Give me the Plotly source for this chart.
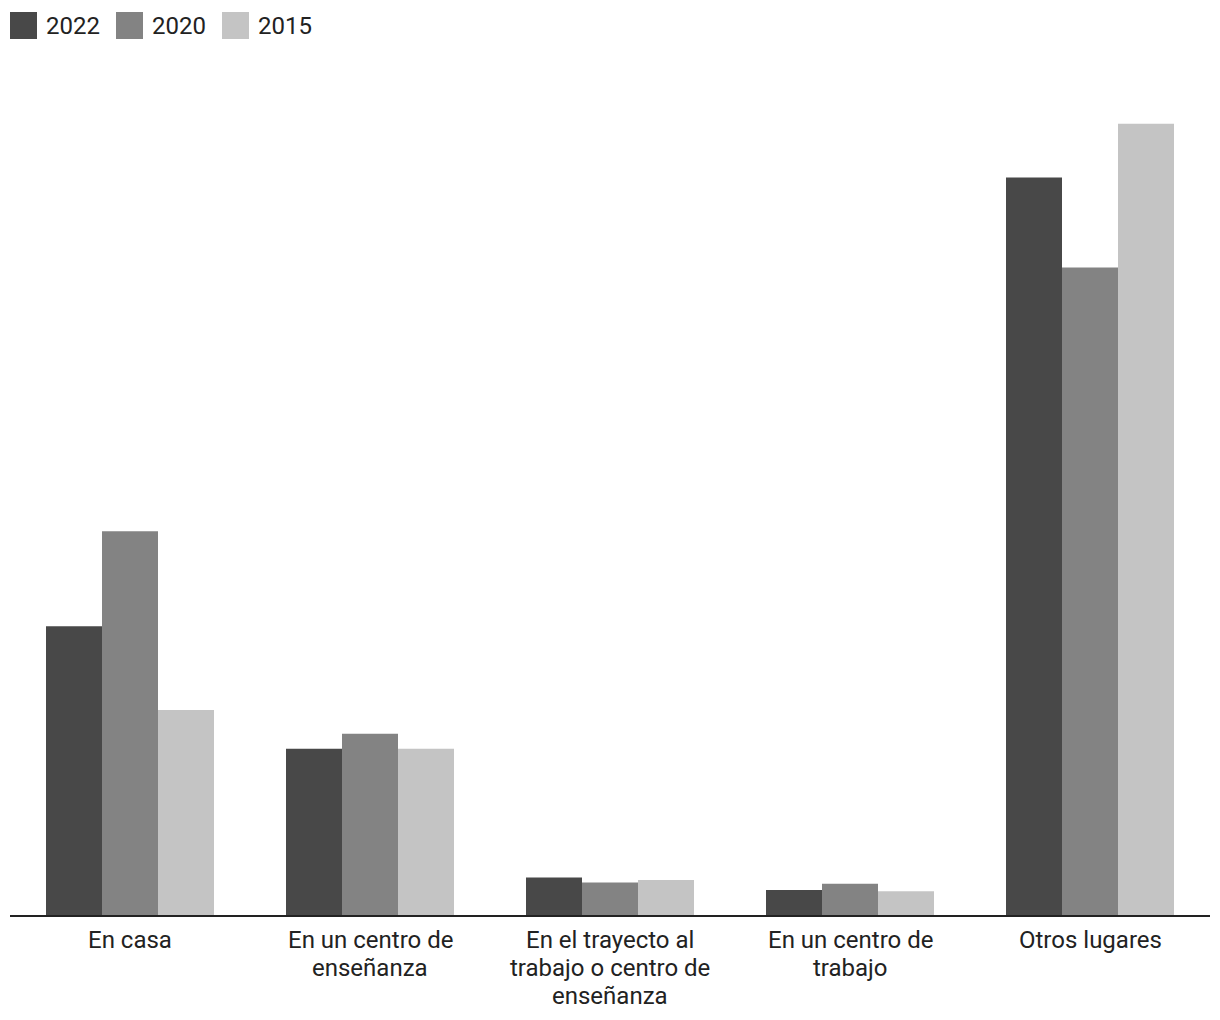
import plotly.graph_objects as go

categories = ["En casa", "En un centro de enseñanza", "En el trayecto al trabajo o centro de enseñanza",
              "En un centro de trabajo", "Otros lugares"]
label_lines = [["En casa"], ["En un centro de", "enseñanza"],
               ["En el trayecto al", "trabajo o centro de", "enseñanza"],
               ["En un centro de", "trabajo"], ["Otros lugares"]]
series_names = ["2022", "2020", "2015"]
values_2022 = [23.1, 13.3, 3.0, 2.0, 59.0]
values_2020 = [30.7, 14.5, 2.6, 2.5, 51.8]
values_2015 = [16.4, 13.3, 2.8, 1.9, 63.3]
colors = ["#484848", "#838383", "#c4c4c4"]

W, H = 1212, 1012
ML, MR, MT, MB = 2, 10, 51, 105
plot_h = H - MT - MB
plot_w = W - ML - MR
top_off = 59  # distance from page top to plot top

fig = go.Figure()
for name, vals, col in zip(series_names, [values_2022, values_2020, values_2015], colors):
    fig.add_trace(go.Bar(name=name, x=categories, y=vals, marker=dict(color=col, line=dict(width=0)),
                         showlegend=False))

# custom legend
for i, (name, col) in enumerate(zip(series_names, colors)):
    x0 = 106 * i
    fig.add_shape(type="rect", xref="paper", yref="paper",
                  x0=x0 / plot_w, x1=(x0 + 27) / plot_w,
                  y0=(plot_h + top_off - 39) / plot_h, y1=(plot_h + top_off - 12) / plot_h,
                  fillcolor=col, line=dict(width=0))
    fig.add_annotation(text=name, xref="paper", yref="paper", x=(x0 + 34) / plot_w,
                       y=(plot_h + top_off - 26) / plot_h, xanchor="left", yanchor="middle",
                       showarrow=False, font=dict(size=24, color="#222222", family="Roboto"))

# category labels
for cat, lines in zip(categories, label_lines):
    for j, line in enumerate(lines):
        fig.add_annotation(text=line, x=cat, xref="x", yref="paper", y=0, yanchor="middle",
                           yshift=-(25 + 28 * j), showarrow=False,
                           font=dict(size=24, color="#222222", family="Roboto"))

fig.update_layout(
    width=W, height=H,
    margin=dict(l=ML, r=MR, t=MT, b=MB),
    barmode="group", bargap=0.3, bargroupgap=0,
    plot_bgcolor="white", paper_bgcolor="white",
    font=dict(family="Roboto", size=24, color="#222222"),
    xaxis=dict(showline=True, linecolor="#222222", linewidth=2, ticks="", showticklabels=False),
    yaxis=dict(range=[0, plot_h / 12.5], showticklabels=False, showgrid=False, zeroline=False, showline=False),
)
fig.write_html("out.html")
